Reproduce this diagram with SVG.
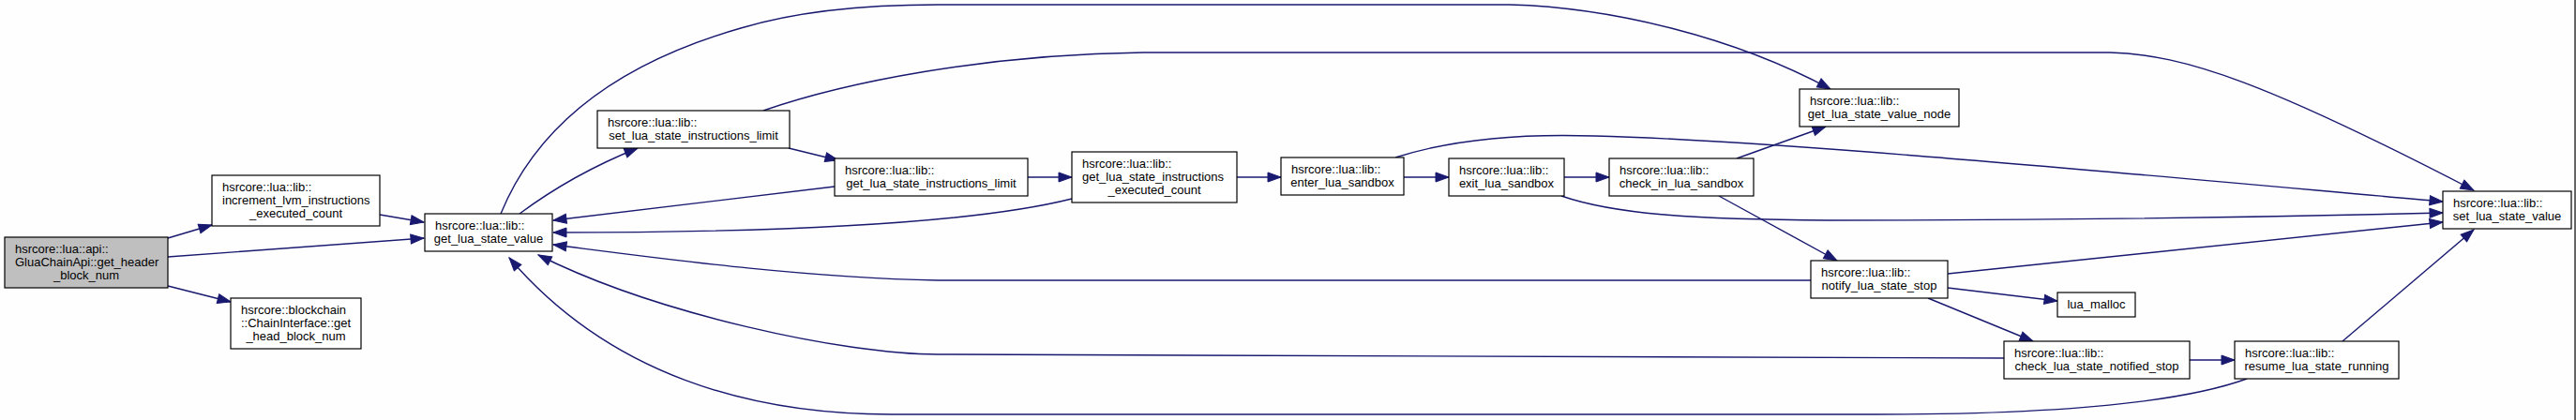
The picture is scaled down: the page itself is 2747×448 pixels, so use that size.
<svg xmlns="http://www.w3.org/2000/svg" width="2747" height="448" viewBox="0 0 2747 448">
<style>
.n rect{fill:#fff;stroke:#000;stroke-width:1.2}
.n rect.g{fill:#bfbfbf}
text{font-family:"Liberation Sans",Arial,sans-serif;font-size:13px;fill:#000}
.c{text-anchor:middle}
.e path{fill:none;stroke:#191970;stroke-width:1.4;marker-end:url(#a)}
</style>
<defs>
<marker id="a" markerUnits="userSpaceOnUse" markerWidth="15" markerHeight="11" refX="14" refY="5" orient="auto" overflow="visible">
<path d="M0,0 L14,5 L0,10 z" fill="#191970" stroke="#191970" stroke-width="1"/>
</marker>
</defs>
<rect x="0" y="0" width="2747" height="448" fill="#fdfefd"/>
<rect x="2745" y="0" width="2" height="448" fill="#666"/>
<g class="e" id="edges">
<path d="M179,254 L226,240"/>
<path d="M179,274 L452,254"/>
<path d="M179,305 L246,322"/>
<path d="M405,229 L452,237"/>
<path d="M554,228 C585,205 625,180 680,158"/>
<path d="M534,228 C570,140 650,70 790,30 C850,12 920,5 1000,5 L1610,5 C1720,8 1850,40 1952,95"/>
<path d="M841,158 L894,171"/>
<path d="M814,118 C900,88 1050,58 1219,56 L2250,56 C2330,58 2420,90 2638,203"/>
<path d="M890,199 L590,235"/>
<path d="M1096,189 L1143,189"/>
<path d="M1143,212 C1040,238 850,248 590,248"/>
<path d="M1319,189 L1366,189"/>
<path d="M1497,189 L1545,189"/>
<path d="M1668,189 L1716,189"/>
<path d="M1488,168 C1560,145 1640,143 1700,145 C1900,150 2300,188 2605,215"/>
<path d="M1665,209 C1720,228 1800,234 1950,235 C2200,235 2400,232 2605,227"/>
<path d="M1852,169 L1947,135"/>
<path d="M1833,209 L1959,278"/>
<path d="M1931,299 L1000,299 C850,296 700,275 590,261"/>
<path d="M2077,307 L2194,321"/>
<path d="M2056,318 L2168,364"/>
<path d="M2077,292 L2605,237"/>
<path d="M2137,382 C2000,380 1500,378 1000,378 C900,378 700,335 574,272"/>
<path d="M2335,384 L2383,384"/>
<path d="M2396,404 C2330,428 2200,442 2000,442 L950,442 C800,442 650,400 543,275"/>
<path d="M2498,364 L2638,245"/>
</g>
<g class="n" id="node-main"><rect class="g" x="5" y="253" width="174" height="54"/><text x="16" y="269.5">hsrcore::lua::api::</text><text x="16" y="283.8">GluaChainApi::get_header</text><text class="c" x="92" y="298">_block_num</text></g>
<g class="n" id="node-increment"><rect x="226" y="187" width="179" height="54"/><text x="237" y="203.5">hsrcore::lua::lib::</text><text x="237" y="217.8">increment_lvm_instructions</text><text class="c" x="315.5" y="232">_executed_count</text></g>
<g class="n" id="node-chain"><rect x="246" y="318" width="139" height="54"/><text x="257" y="334.5">hsrcore::blockchain</text><text x="257" y="348.8">::ChainInterface::get</text><text class="c" x="315.5" y="363">_head_block_num</text></g>
<g class="n" id="node-get-value"><rect x="453" y="228" width="136" height="40"/><text x="464" y="244.5">hsrcore::lua::lib::</text><text class="c" x="521" y="258.8">get_lua_state_value</text></g>
<g class="n" id="node-set-instr-limit"><rect x="637" y="118" width="205" height="40"/><text x="648" y="134.5">hsrcore::lua::lib::</text><text class="c" x="739.5" y="148.8">set_lua_state_instructions_limit</text></g>
<g class="n" id="node-get-instr-limit"><rect x="890" y="169" width="206" height="40"/><text x="901" y="185.5">hsrcore::lua::lib::</text><text class="c" x="993" y="199.8">get_lua_state_instructions_limit</text></g>
<g class="n" id="node-executed-count"><rect x="1143" y="162" width="176" height="54"/><text x="1154" y="178.5">hsrcore::lua::lib::</text><text x="1154" y="192.8">get_lua_state_instructions</text><text class="c" x="1231" y="207">_executed_count</text></g>
<g class="n" id="node-enter"><rect x="1366" y="168" width="131" height="40"/><text x="1377" y="184.5">hsrcore::lua::lib::</text><text class="c" x="1431.5" y="198.8">enter_lua_sandbox</text></g>
<g class="n" id="node-exit"><rect x="1545" y="169" width="123" height="40"/><text x="1556" y="185.5">hsrcore::lua::lib::</text><text class="c" x="1606.5" y="199.8">exit_lua_sandbox</text></g>
<g class="n" id="node-check-in"><rect x="1716" y="169" width="154" height="40"/><text x="1727" y="185.5">hsrcore::lua::lib::</text><text class="c" x="1793" y="199.8">check_in_lua_sandbox</text></g>
<g class="n" id="node-value-node"><rect x="1919" y="95" width="170" height="40"/><text x="1930" y="111.5">hsrcore::lua::lib::</text><text class="c" x="2004" y="125.8">get_lua_state_value_node</text></g>
<g class="n" id="node-notify"><rect x="1931" y="278" width="146" height="40"/><text x="1942" y="294.5">hsrcore::lua::lib::</text><text class="c" x="2004" y="308.8">notify_lua_state_stop</text></g>
<g class="n" id="node-malloc"><rect x="2194" y="312" width="83" height="26"/><text class="c" x="2235.5" y="329">lua_malloc</text></g>
<g class="n" id="node-check-notified"><rect x="2137" y="364" width="198" height="40"/><text x="2148" y="380.5">hsrcore::lua::lib::</text><text class="c" x="2236" y="394.8">check_lua_state_notified_stop</text></g>
<g class="n" id="node-resume"><rect x="2383" y="364" width="175" height="40"/><text x="2394" y="380.5">hsrcore::lua::lib::</text><text class="c" x="2470.5" y="394.8">resume_lua_state_running</text></g>
<g class="n" id="node-set-value"><rect x="2605" y="204" width="137" height="40"/><text x="2616" y="220.5">hsrcore::lua::lib::</text><text class="c" x="2673.5" y="234.8">set_lua_state_value</text></g>
</svg>
